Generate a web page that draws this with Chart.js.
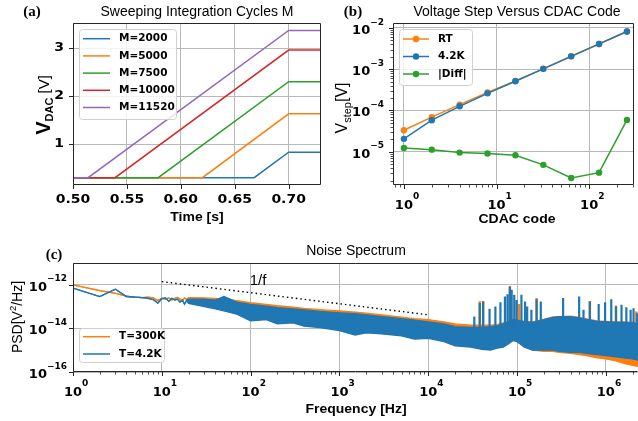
<!DOCTYPE html>
<html>
<head>
<meta charset="utf-8">
<script src="https://cdn.jsdelivr.net/npm/chart.js@4.4.1/dist/chart.umd.min.js"></script>
<style>
  html, body { margin: 0; padding: 0; background: #fff; }
  #fig { position: relative; width: 638px; height: 421px; overflow: hidden; background: #fff; }
  #fig canvas { position: absolute; }
</style>
</head>
<body>
<div id="fig">
  <canvas id="chartA" width="322" height="240" style="left:0;top:0"></canvas>
  <canvas id="chartB" width="318" height="240" style="left:320px;top:0"></canvas>
  <canvas id="chartC" width="638" height="199" style="left:0;top:222px"></canvas>
</div>
<script>
// ---------- (a) sweeping integration cycles ----------
const sweepLabels = ['M=2000', 'M=5000', 'M=7500', 'M=10000', 'M=11520'];
const sweepColors = ['#1f77b4', '#ff7f0e', '#2ca02c', '#d62728', '#9467bd'];
const sweepBase = [0.30, 0.30, 0.30, 0.30, 0.30];    // V before the ramp
const sweepStart = [0.668, 0.620, 0.579, 0.539, 0.514]; // ramp start [s]
const sweepEnd = [0.700, 0.700, 0.700, 0.700, 0.700];
const sweepTop = [0.83, 1.63, 2.30, 2.96, 3.37];      // V after the ramp
const timeLimits = [0.50, 0.73];
const timeTicks = [0.50, 0.55, 0.60, 0.65, 0.70];
const voltTicks = [1, 2, 3];

// ---------- (b) voltage step vs CDAC code ----------
const cdacCodes = [1, 2, 4, 8, 16, 32, 64, 128, 256];
const stepRT = [3.3e-5, 6.9e-5, 1.38e-4, 2.73e-4, 5.2e-4, 1.03e-3, 2.06e-3, 4.1e-3, 8.2e-3];
const step4K = [2.05e-5, 5.8e-5, 1.26e-4, 2.6e-4, 5.1e-4, 1.02e-3, 2.05e-3, 4.1e-3, 8.2e-3];
const stepDiff = [1.23e-5, 1.12e-5, 9.5e-6, 9.0e-6, 8.2e-6, 4.8e-6, 2.3e-6, 3.1e-6, 5.9e-5];
const codeTicks = [1, 10, 100];
const stepTicks = [1e-5, 1e-4, 1e-3, 1e-2];

// ---------- (c) noise spectrum ----------
const lfFreq = [1, 2, 3, 4, 5, 6, 7, 8, 9, 10, 11, 12, 13, 14, 15, 16, 17, 18, 19];
const lf300 = [1.0e-12, 5.4e-13, 4.0e-13, 3.0e-13, 2.75e-13, 2.6e-13, 2.7e-13, 2.5e-13, 1.9e-13, 2.4e-13,
               2.24e-13, 2.5e-13, 2.0e-13, 2.4e-13, 2.6e-13, 2.2e-13, 1.8e-13, 2.5e-13, 2.1e-13];
const lf42 = [7.1e-13, 2.9e-13, 6.3e-13, 2.9e-13, 2.7e-13, 2.6e-13, 2.4e-13, 2.1e-13, 1.45e-13, 2.3e-13,
              2.5e-13, 1.74e-13, 2.4e-13, 2.0e-13, 2.2e-13, 1.6e-13, 2.0e-13, 1.3e-13, 1.9e-13];
const bandFreq = [20, 30, 40, 50, 70, 100, 150, 200, 300, 400, 600, 1000, 1500, 2000, 3000, 5000, 7000,
                  1e4, 1.5e4, 2e4, 3e4, 4e4, 5e4, 6e4, 7e4, 8e4, 9e4, 1e5, 1.2e5, 1.5e5, 2e5, 2.5e5, 3e5,
                  4e5, 5e5, 6e5, 8e5, 1e6, 1.3e6, 1.6e6, 2e6, 2.3e6];
const band300Hi = [2.6e-13, 2.5e-13, 2.4e-13, 2.2e-13, 1.9e-13, 1.5e-13, 1.26e-13, 1.1e-13, 9.5e-14, 8.3e-14,
                   7.2e-14, 6.3e-14, 5.6e-14, 5.0e-14, 4.2e-14, 3.3e-14, 2.8e-14, 2.5e-14, 2.0e-14, 1.6e-14,
                   1.4e-14, 1.4e-14, 1.4e-14, 1.5e-14, 1.8e-14, 2.1e-14, 2.6e-14, 2.5e-14, 2.1e-14, 2.0e-14,
                   2.6e-14, 3.3e-14, 3.5e-14, 3.6e-14, 3.2e-14, 2.75e-14, 2.2e-14, 2.1e-14, 2.0e-14, 2.0e-14,
                   1.9e-14, 1.8e-14];
const band300Lo = [1.6e-13, 1.1e-13, 8.9e-14, 7.9e-14, 5.0e-14, 3.2e-14, 2.8e-14, 2.0e-14, 1.9e-14, 1.4e-14,
                   1.26e-14, 8.9e-15, 7.9e-15, 7.1e-15, 6.0e-15, 5.0e-15, 4.0e-15, 4.0e-15, 2.8e-15, 1.8e-15,
                   1.6e-15, 1.26e-15, 1.1e-15, 1.4e-15, 1.6e-15, 2.0e-15, 2.8e-15, 2.5e-15, 1.4e-15, 1.0e-15,
                   8.9e-16, 8.9e-16, 7.9e-16, 7.1e-16, 6.3e-16, 5.6e-16, 4.5e-16, 4.0e-16, 3.2e-16, 2.5e-16,
                   2.0e-16, 1.8e-16];
const band42Hi = [2.2e-13, 2.2e-13, 2.0e-13, 2.9e-13, 1.6e-13, 1.26e-13, 1.05e-13, 8.9e-14, 7.9e-14, 7.1e-14,
                  6.0e-14, 5.2e-14, 4.8e-14, 4.2e-14, 3.5e-14, 2.8e-14, 2.4e-14, 2.0e-14, 1.6e-14, 1.2e-14,
                  1.1e-14, 1.1e-14, 1.2e-14, 1.3e-14, 1.6e-14, 2.0e-14, 2.5e-14, 2.4e-14, 2.0e-14, 1.9e-14,
                  2.5e-14, 3.2e-14, 3.5e-14, 3.5e-14, 3.0e-14, 2.6e-14, 2.1e-14, 2.0e-14, 1.9e-14, 1.9e-14,
                  1.8e-14, 1.66e-14];
const band42Lo = [1.4e-13, 1.0e-13, 7.9e-14, 6.3e-14, 4.5e-14, 2.2e-14, 2.5e-14, 1.6e-14, 1.8e-14, 1.26e-14,
                  1.1e-14, 7.9e-15, 5.0e-15, 6.3e-15, 5.6e-15, 4.5e-15, 3.2e-15, 3.5e-15, 2.5e-15, 1.6e-15,
                  1.4e-15, 1.1e-15, 1.0e-15, 1.26e-15, 1.4e-15, 2.0e-15, 2.8e-15, 2.5e-15, 1.4e-15, 1.0e-15,
                  1.0e-15, 1.0e-15, 8.9e-16, 7.9e-16, 7.9e-16, 7.1e-16, 6.3e-16, 5.6e-16, 5.0e-16, 4.5e-16,
                  4.0e-16, 3.5e-16];
// narrow tones sticking out of the noise floor
const spikeFloor = 1e-14;
const spike42Freq = [3.3e4, 3.8e4, 4.15e4, 4.9e4, 5.7e4, 6.5e4, 7.3e4, 7.8e4, 8.3e4, 8.7e4, 9.3e4, 9.9e4,
                     1.12e5, 1.23e5, 1.3e5, 1.45e5, 1.66e5, 1.85e5, 3.3e5, 5.0e5, 5.6e5, 6.6e5, 8.3e5,
                     9.8e5, 1.15e6, 1.3e6, 1.5e6, 1.7e6, 1.9e6, 2.05e6, 2.25e6];
const spike42Top = [3.5e-14, 1.45e-13, 1.7e-13, 7.9e-14, 1.0e-13, 1.6e-13, 2.9e-13, 3.7e-13, 8.3e-13, 5.9e-13,
                    3.5e-13, 2.0e-13, 3.5e-13, 1.7e-13, 1.0e-13, 7.1e-14, 2.2e-13, 1.7e-13, 2.45e-13, 2.9e-13,
                    7.1e-14, 1.7e-13, 1.3e-13, 1.6e-13, 2.2e-13, 1.0e-13, 1.2e-13, 9.3e-14, 7.1e-14, 8.5e-14,
                    5.0e-14];
const spike300Freq = [3.8e4, 4.15e4, 8.3e4, 1.05e5, 1.66e5, 6.6e5, 1.3e6, 2.2e6];
const spike300Top = [1.74e-13, 1.8e-13, 8.6e-13, 1.3e-13, 2.5e-13, 1.8e-13, 1.12e-13, 6.0e-14];
const guideFreq = [10, 1e4];          // the dotted 1/f guide
const guidePsd = [1.4e-12, 4.2e-14];
const freqTicks = [1, 10, 100, 1e3, 1e4, 1e5, 1e6];
const psdTicks = [1e-16, 1e-14, 1e-12];

// ---------- shared styling ----------
const GRID = '#b8b8b8';
const SPINE = '#262626';
const TICK_FONT = 'bold 14px "DejaVu Sans"';
const POW_FONT = 'bold 13px "DejaVu Sans"';
const SUP_FONT = 'bold 9px "DejaVu Sans"';
const LEG_FONT = 'bold 10.5px "DejaVu Sans"';
const TITLE_FONT = '14px "Liberation Sans"';
const XLABEL_FONT = 'bold 14px "Liberation Sans"';
const PANEL_FONT = 'bold 15px "Liberation Serif"';
const SQUASH = 0.9;   // the figure is a little flattened vertically

function pts(xs, ys) {
  return xs.map((x, i) => ({ x, y: ys[i] }));
}

function spikePts(freqs, tops) {
  const out = [];
  freqs.forEach((f, i) => {
    out.push({ x: f, y: spikeFloor }, { x: f, y: tops[i] }, { x: f, y: null });
  });
  return out;
}

function minorsFor(majors, lo, hi) {
  const out = [];
  const start = Math.floor(Math.log10(lo));
  const end = Math.ceil(Math.log10(hi));
  for (let e = start; e <= end; e++) {
    for (let k = 2; k <= 9; k++) {
      const v = k * Math.pow(10, e);
      if (v > lo && v < hi) out.push(v);
    }
  }
  return out;
}

function label(ctx, str, x, y, font, align, sy) {
  ctx.save();
  ctx.translate(x, y);
  ctx.scale(1, sy || 1);
  ctx.font = font;
  ctx.textAlign = align || 'center';
  ctx.textBaseline = 'middle';
  ctx.fillStyle = '#000';
  ctx.fillText(str, 0, 0);
  ctx.restore();
}

// "10" with a raised exponent, like matplotlib's log tick labels
function powLabel(ctx, v, x, y, align) {
  const e = Math.round(Math.log10(v));
  const sup = e < 0 ? '\u2212' + (-e) : String(e);
  ctx.font = POW_FONT;
  const wb = ctx.measureText('10').width;
  ctx.font = SUP_FONT;
  const ws = ctx.measureText(sup).width;
  const left = align === 'right' ? x - wb - ws : x - wb / 2;
  label(ctx, '10', left, y, POW_FONT, 'left', SQUASH);
  label(ctx, sup, left + wb, y - 8.5, SUP_FONT, 'left', SQUASH);
}

// several font runs on one baseline, optionally rotated for y labels
function richText(ctx, parts, cx, cy, rotate) {
  ctx.save();
  ctx.translate(cx, cy);
  if (rotate) ctx.rotate(-Math.PI / 2);
  ctx.textAlign = 'left';
  ctx.textBaseline = 'alphabetic';
  ctx.fillStyle = '#000';
  let total = 0;
  parts.forEach(p => { ctx.font = p.font; p.w = ctx.measureText(p.t).width; total += p.w; });
  let x = -total / 2;
  parts.forEach(p => { ctx.font = p.font; ctx.fillText(p.t, x, p.dy); x += p.w; });
  ctx.restore();
}

function drawLegend(ctx, lg) {
  const [bx, by, bw, bh] = lg.box;
  ctx.save();
  ctx.beginPath();
  ctx.roundRect(bx + 0.5, by + 0.5, bw, bh, 3);
  ctx.fillStyle = 'rgba(255,255,255,0.8)';
  ctx.fill();
  ctx.strokeStyle = '#d0d0d0';
  ctx.lineWidth = 1;
  ctx.stroke();
  lg.rows.forEach(r => {
    ctx.strokeStyle = r.color;
    ctx.lineWidth = 1.5;
    ctx.beginPath();
    ctx.moveTo(lg.lineX[0], r.y);
    ctx.lineTo(lg.lineX[1], r.y);
    ctx.stroke();
    if (lg.marker) {
      ctx.fillStyle = r.color;
      ctx.beginPath();
      ctx.arc((lg.lineX[0] + lg.lineX[1]) / 2, r.y, 3.2, 0, Math.PI * 2);
      ctx.fill();
    }
    label(ctx, r.text, lg.textX, r.y, LEG_FONT, 'left');
  });
  ctx.restore();
}

// frame, tick marks, tick labels, titles and legend drawn over the datasets
function decor(id, spec) {
  return {
    id,
    afterDatasetsDraw(chart) {
      const ctx = chart.ctx;
      const a = chart.chartArea;
      const xs = chart.scales.x;
      const ys = chart.scales.y;
      ctx.save();
      ctx.strokeStyle = SPINE;
      ctx.lineWidth = 1;
      ctx.beginPath();
      ctx.moveTo(a.left + 0.5, a.top + 0.5);
      ctx.lineTo(a.left + 0.5, a.bottom - 0.5);
      ctx.lineTo(a.right - 0.5, a.bottom - 0.5);
      if (!spec.noRight) ctx.lineTo(a.right - 0.5, a.top + 0.5);
      else ctx.moveTo(a.right, a.top + 0.5);
      ctx.lineTo(a.left + 0.5, a.top + 0.5);
      ctx.stroke();

      const xTick = (v, len) => {
        const p = Math.round(xs.getPixelForValue(v)) + 0.5;
        ctx.beginPath(); ctx.moveTo(p, a.bottom); ctx.lineTo(p, a.bottom + len); ctx.stroke();
      };
      const yTick = (v, len) => {
        const p = Math.round(ys.getPixelForValue(v)) + 0.5;
        ctx.beginPath(); ctx.moveTo(a.left, p); ctx.lineTo(a.left - len, p); ctx.stroke();
      };
      ctx.lineWidth = 1;
      spec.xMajor.forEach(v => xTick(v, 4));
      spec.yMajor.forEach(v => yTick(v, 4));
      ctx.lineWidth = 0.8;
      (spec.xMinor || []).forEach(v => xTick(v, 2.5));
      (spec.yMinor || []).forEach(v => yTick(v, 2.5));

      spec.xMajor.forEach(v => {
        const p = xs.getPixelForValue(v);
        if (spec.log) powLabel(ctx, v, p, a.bottom + 20.5, 'center');
        else label(ctx, spec.xFmt(v), p, a.bottom + 15, TICK_FONT, 'center', SQUASH);
      });
      spec.yMajor.forEach(v => {
        const p = ys.getPixelForValue(v);
        if (spec.log) powLabel(ctx, v, a.left - spec.yGap, p + 3, 'right');
        else label(ctx, spec.yFmt(v), a.left - spec.yGap, p, TICK_FONT, 'right', SQUASH);
      });

      label(ctx, spec.panel, spec.panelPos[0], spec.panelPos[1], PANEL_FONT, 'center');
      label(ctx, spec.title, spec.titlePos[0], spec.titlePos[1], TITLE_FONT, 'center');
      label(ctx, spec.xLabel, spec.xLabelPos[0], spec.xLabelPos[1], XLABEL_FONT, 'center', SQUASH);
      richText(ctx, spec.yLabel, spec.yLabelPos[0], spec.yLabelPos[1], true);
      if (spec.extra) spec.extra.forEach(t => label(ctx, t.text, t.x, t.y, t.font, 'center'));
      drawLegend(ctx, spec.legend);
      ctx.restore();
    }
  };
}

function baseOptions(pad, yWidth, xHeight) {
  return {
    responsive: false,
    animation: false,
    devicePixelRatio: 1,
    layout: { padding: pad },
    plugins: { legend: { display: false }, tooltip: { enabled: false } },
    elements: { point: { radius: 0 }, line: { tension: 0 } },
    events: [],
    scales: {
      x: {
        ticks: { display: false },
        grid: { color: GRID, lineWidth: 1, drawTicks: false },
        border: { display: false },
        afterFit: s => { s.height = xHeight; },
      },
      y: {
        ticks: { display: false },
        grid: { color: GRID, lineWidth: 1, drawTicks: false },
        border: { display: false },
        afterFit: s => { s.width = yWidth; },
      },
    },
  };
}

// ---------- chart (a) ----------
const optA = baseOptions({ top: 23, right: 1, left: 0, bottom: 0 }, 73, 55);
Object.assign(optA.scales.x, {
  type: 'linear', min: timeLimits[0], max: timeLimits[1],
  afterBuildTicks: s => { s.ticks = timeTicks.map(v => ({ value: v })); },
});
Object.assign(optA.scales.y, {
  type: 'linear', min: 0.147, max: 3.524,
  afterBuildTicks: s => { s.ticks = voltTicks.map(v => ({ value: v })); },
});

new Chart(document.getElementById('chartA'), {
  type: 'line',
  data: {
    datasets: sweepLabels.map((lab, i) => ({
      label: lab,
      data: pts([timeLimits[0], sweepStart[i], sweepEnd[i], timeLimits[1]],
                [sweepBase[i], sweepBase[i], sweepTop[i], sweepTop[i]]),
      borderColor: sweepColors[i],
      borderWidth: 1.5,
      fill: false,
      order: sweepLabels.length - i,
    })),
  },
  options: optA,
  plugins: [decor('decorA', {
    panel: '(a)', panelPos: [32, 12],
    title: 'Sweeping Integration Cycles M', titlePos: [197, 12],
    xLabel: 'Time [s]', xLabelPos: [197, 218],
    yLabel: [
      { t: 'V', font: 'bold 20px "Liberation Sans"', dy: 7 },
      { t: 'DAC', font: 'bold 11px "Liberation Sans"', dy: 9.5 },
      { t: ' [V]', font: '15px "Liberation Sans"', dy: 6 },
    ],
    yLabelPos: [43, 105],
    xMajor: timeTicks, yMajor: voltTicks,
    xFmt: v => v.toFixed(2), yFmt: v => String(v), yGap: 9,
    legend: {
      box: [79, 29, 97, 90], lineX: [83, 110], textX: 119,
      rows: sweepLabels.map((t, i) => ({ text: t, color: sweepColors[i], y: 38.7 + i * 17.2 })),
    },
  })],
});

// ---------- chart (b) ----------
const codeMin = 0.763, codeMax = 305, stepMin = 1.556e-6, stepMax = 1.32e-2;
const optB = baseOptions({ top: 23, right: 1, left: 0, bottom: 0 }, 73, 55);
Object.assign(optB.scales.x, {
  type: 'logarithmic', min: codeMin, max: codeMax,
  afterBuildTicks: s => { s.ticks = codeTicks.map(v => ({ value: v })); },
});
Object.assign(optB.scales.y, {
  type: 'logarithmic', min: stepMin, max: stepMax,
  afterBuildTicks: s => { s.ticks = stepTicks.map(v => ({ value: v })); },
});
const stepSeries = [
  { label: 'RT', values: stepRT, color: '#ff7f0e', order: 1 },
  { label: '4.2K', values: step4K, color: '#1f77b4', order: 0 },
  { label: '|Diff|', values: stepDiff, color: '#2ca02c', order: 2 },
];

new Chart(document.getElementById('chartB'), {
  type: 'line',
  data: {
    datasets: stepSeries.map(s => ({
      label: s.label,
      data: pts(cdacCodes, s.values),
      borderColor: s.color,
      backgroundColor: s.color,
      borderWidth: 1.5,
      pointRadius: 3.2,
      pointBorderWidth: 0,
      fill: false,
      order: s.order,
    })),
  },
  options: optB,
  plugins: [decor('decorB', {
    panel: '(b)', panelPos: [33, 12],
    title: 'Voltage Step Versus CDAC Code', titlePos: [197, 12],
    xLabel: 'CDAC code', xLabelPos: [197, 220],
    yLabel: [
      { t: 'V', font: '16px "Liberation Sans"', dy: 6 },
      { t: 'step', font: '11px "Liberation Sans"', dy: 9.5 },
      { t: '[V]', font: '16px "Liberation Sans"', dy: 6 },
    ],
    yLabelPos: [21, 108],
    log: true, yGap: 9,
    xMajor: codeTicks, yMajor: stepTicks,
    xMinor: minorsFor(codeTicks, codeMin, codeMax),
    yMinor: minorsFor(stepTicks, stepMin, stepMax),
    legend: {
      box: [79, 29, 73, 56], lineX: [83, 109], textX: 118,
      marker: true,
      rows: stepSeries.map((s, i) => ({ text: s.label, color: s.color, y: 39 + i * 17.5 })),
    },
  })],
});

// ---------- chart (c) ----------
const freqMin = 1, freqMax = 2.3e6, psdMin = 1e-16, psdMax = 1e-11;
const optC = baseOptions({ top: 41, right: 0, left: 0, bottom: 0 }, 73, 49);
Object.assign(optC.scales.x, {
  type: 'logarithmic', min: freqMin, max: freqMax,
  afterBuildTicks: s => { s.ticks = freqTicks.map(v => ({ value: v })); },
});
Object.assign(optC.scales.y, {
  type: 'logarithmic', min: psdMin, max: psdMax,
  afterBuildTicks: s => { s.ticks = psdTicks.map(v => ({ value: v })); },
});
const allFreq = lfFreq.concat(bandFreq);
const C300 = '#ff7f0e', C42 = '#1f77b4';

new Chart(document.getElementById('chartC'), {
  type: 'line',
  data: {
    datasets: [
      { label: 'T=300K', data: pts(allFreq, lf300.concat(band300Hi)), borderColor: C300,
        backgroundColor: C300, borderWidth: 1.3, fill: '+1', order: 4 },
      { label: 'T=300K low', data: pts(allFreq, lf300.concat(band300Lo)), borderColor: C300,
        borderWidth: 1.3, fill: false, order: 4 },
      { label: 'T=300K tones', data: spikePts(spike300Freq, spike300Top), borderColor: C300,
        borderWidth: 2.4, fill: false, spanGaps: false, order: 3 },
      { label: 'T=4.2K', data: pts(allFreq, lf42.concat(band42Hi)), borderColor: C42,
        backgroundColor: C42, borderWidth: 1.3, fill: '+1', order: 2 },
      { label: 'T=4.2K low', data: pts(allFreq, lf42.concat(band42Lo)), borderColor: C42,
        borderWidth: 1.3, fill: false, order: 2 },
      { label: 'T=4.2K tones', data: spikePts(spike42Freq, spike42Top), borderColor: C42,
        borderWidth: 2.2, fill: false, spanGaps: false, order: 1 },
      { label: '1/f', data: pts(guideFreq, guidePsd), borderColor: '#000', borderWidth: 1.4,
        borderDash: [1.5, 3], fill: false, order: 0 },
    ],
  },
  options: optC,
  plugins: [decor('decorC', {
    panel: '(c)', panelPos: [54, 33],
    title: 'Noise Spectrum', titlePos: [356, 29],
    xLabel: 'Frequency [Hz]', xLabelPos: [356, 188],
    yLabel: [
      { t: 'PSD[V', font: '14px "Liberation Sans"', dy: 5 },
      { t: '2', font: '9.5px "Liberation Sans"', dy: -1 },
      { t: '/Hz]', font: '14px "Liberation Sans"', dy: 5 },
    ],
    yLabelPos: [17, 95],
    log: true, yGap: 6, noRight: true,
    xMajor: freqTicks, yMajor: psdTicks,
    xMinor: minorsFor(freqTicks, freqMin, freqMax),
    extra: [{ text: '1/f', x: 258, y: 59, font: '15px "Liberation Sans"' }],
    legend: {
      box: [79, 106, 85, 34], lineX: [83, 110], textX: 119,
      rows: [{ text: 'T=300K', color: C300, y: 114.7 }, { text: 'T=4.2K', color: C42, y: 132 }],
    },
  })],
});
</script>
</body>
</html>
